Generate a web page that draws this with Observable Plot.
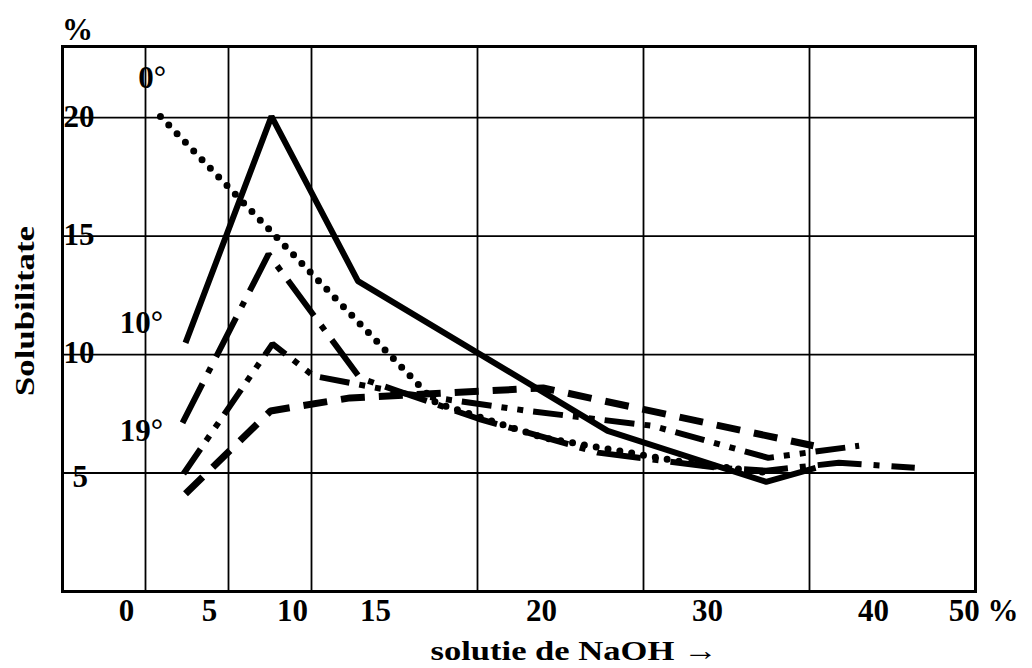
<!DOCTYPE html>
<html><head><meta charset="utf-8">
<script src="https://cdn.jsdelivr.net/npm/d3@7"></script>
<script src="https://cdn.jsdelivr.net/npm/@observablehq/plot@0.6"></script>
<style>body{margin:0;background:#fff}</style>
</head><body><div id="chart"></div>
<script>
// x scale knots (gridlines), tick labels
const xGrid = [0, 5, 10, 15, 20, 30, 40, 50];
const xTickLabels = [0, 5, 10, 15, 20, 30, 40];
const xEndLabel = 50;
const yTicks = [5, 10, 15, 20];

// series values (x = % NaOH, y = solubility %)
const solidX = [7.41, 12.59, 16.40, 27.84, 37.39, 40.37];
const solidY = [10.49, 20.05, 13.10, 6.78, 4.63, 5.22];

const dottedX = [5.90, 18.75, 23.95, 32.67, 37.52];
const dottedY = [20.05, 7.96, 6.49, 5.43, 5.01];

const dashDotX = [7.23, 12.41, 16.46, 20.06, 27.25, 34.48, 37.39, 41.77, 46.34];
const dashDotY = [7.12, 14.24, 9.01, 7.29, 5.86, 5.22, 5.10, 5.43, 5.22];

const dashX = [7.41, 12.53, 16.16, 23.95, 40.24];
const dashY = [4.13, 7.62, 8.17, 8.59, 6.15];

const dashDotDotX = [7.29, 12.65, 15.06, 17.89, 23.05, 30.55, 37.52, 42.99];
const dashDotDotY = [4.97, 10.45, 9.10, 8.34, 7.62, 6.99, 5.64, 6.15];

// curve labels
const curveLabels = ["0°", "10°", "19°"];
const curveLabelX = [5.4, 4.76, 4.76];
const curveLabelY = [21.65, 11.33, 6.78];

const yTitle = "Solubilitate";
const xTitle = "solutie de NaOH →";

const W = 1032, H = 668;
const mL = 62, mR = 57, mT = 46, mB = 77;
// column layout of the grid: three half-width columns then four full columns
const colUnits = [0, 0.5, 1, 1.5, 2.5, 3.5, 4.5, 5.5];
const colW = (W - mL - mR) / 5.5;
const xRange = colUnits.map(u => mL + u * colW);

const font = "Liberation Serif, Times New Roman, serif";
const zip = (xs, ys) => xs.map((x, i) => ({x, y: ys[i]}));

const styles = [
  {data: zip(solidX, solidY), strokeWidth: 6, strokeDasharray: null, cap: "butt"},
  {data: zip(dottedX, dottedY), strokeWidth: 7, strokeDasharray: "0 12", cap: "round"},
  {data: zip(dashDotX, dashDotY), strokeWidth: 6, strokeDasharray: "44 12 6 12", cap: "butt"},
  {data: zip(dashX, dashY), strokeWidth: 7, strokeDasharray: "24 14", cap: "butt"},
  {data: zip(dashDotDotX, dashDotDotY), strokeWidth: 6, strokeDasharray: "30 10 6 10 6 10", cap: "butt"}
];

const bold = {fontFamily: font, fontWeight: "bold", fill: "#000"};
const yMain = yTicks.filter(v => v !== yTicks[0]);

const plot = Plot.plot({
  width: W, height: H,
  marginLeft: mL, marginRight: mR, marginTop: mT, marginBottom: mB,
  style: {background: "#fff", fontFamily: font},
  x: {type: "linear", domain: xGrid, range: xRange, axis: null},
  y: {domain: [0, 23], axis: null},
  marks: [
    Plot.ruleX(xGrid.slice(1, -1), {stroke: "#000", strokeWidth: 1.8}),
    Plot.ruleY(yTicks, {stroke: "#000", strokeWidth: 1.8}),
    Plot.frame({stroke: "#000", strokeWidth: 3}),
    ...styles.map(s => Plot.line(s.data, {
      x: "x", y: "y", stroke: "#000", strokeWidth: s.strokeWidth,
      strokeDasharray: s.strokeDasharray, strokeLinecap: s.cap, strokeLinejoin: "miter"
    })),
    // y tick labels (inside the frame, at its left edge)
    Plot.text(yMain, {y: d => d, text: d => String(d), frameAnchor: "left", textAnchor: "start",
      lineAnchor: "middle", dx: 1, dy: -1, fontSize: 31, ...bold}),
    Plot.text([yTicks[0]], {y: d => d, text: d => String(d), frameAnchor: "left", textAnchor: "start",
      lineAnchor: "middle", dx: 10, dy: 4, fontSize: 31, ...bold}),
    // x tick labels (offset to the right of their gridlines, as in the original)
    Plot.text(xTickLabels, {x: d => d, text: d => String(d), frameAnchor: "bottom", lineAnchor: "middle",
      textAnchor: "middle", dy: 20, dx: 64, fontSize: 31, ...bold}),
    Plot.text([xEndLabel], {x: d => d, text: d => `${d} %`, frameAnchor: "bottom", lineAnchor: "middle",
      textAnchor: "middle", dy: 20, dx: 8, fontSize: 31, ...bold}),
    // curve labels
    Plot.text(curveLabels, {x: (d, i) => curveLabelX[i], y: (d, i) => curveLabelY[i], text: d => d,
      lineAnchor: "middle", fontSize: 31, ...bold}),
    // unit above y axis
    Plot.text(["%"], {frameAnchor: "top-left", text: d => d, textAnchor: "middle", lineAnchor: "middle",
      dx: 15, dy: -16, fontSize: 31, ...bold}),
    // axis titles
    Plot.text([yTitle], {frameAnchor: "left", text: d => d, rotate: -90, textAnchor: "middle",
      lineAnchor: "middle", dx: -37, dy: -8, fontSize: 28, ...bold}),
    Plot.text([xTitle], {frameAnchor: "bottom", text: d => d, textAnchor: "middle", lineAnchor: "middle",
      dy: 60, dx: 55, fontSize: 28, ...bold})
  ]
});
// stretch the two axis titles to the length they have in the original
d3.select(plot).selectAll("text").each(function () {
  const t = this.textContent;
  if (t === xTitle) d3.select(this).attr("textLength", 287).attr("lengthAdjust", "spacingAndGlyphs");
  if (t === yTitle) d3.select(this).attr("textLength", 170).attr("lengthAdjust", "spacingAndGlyphs");
});
document.getElementById("chart").appendChild(plot);
</script>
</body></html>
